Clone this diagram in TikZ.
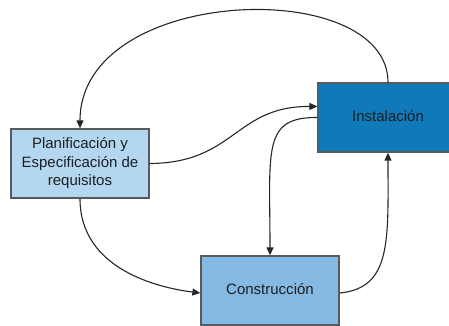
\documentclass[tikz,border=0pt]{standalone}
\usepackage{fontspec}
\setmainfont{Liberation Sans}
\usetikzlibrary{arrows.meta}
\definecolor{lightbox}{HTML}{B4D7F1}
\definecolor{midbox}{HTML}{84B9E3}
\definecolor{darkbox}{HTML}{0F79BA}
\definecolor{edgegray}{HTML}{5A5A5A}
\definecolor{txt}{HTML}{1E1E1E}
\begin{document}
\begin{tikzpicture}[x=1pt,y=-1pt,
  stage/.style={draw=edgegray,line width=1.3pt,minimum width=138pt,minimum height=69pt,inner sep=0pt,
    font=\fontsize{15}{18.5}\selectfont,text=txt,align=center},
  conn/.style={draw=black!85,line width=1.1pt,-{Triangle[length=8pt,width=7pt]}}]
\useasboundingbox (0,0) rectangle (449,326);
\node[stage,fill=lightbox] (plan) at (80,163.5) {Planificación y\\Especificación de\\requisitos};
\node[stage,fill=darkbox,minimum width=140pt] (inst) at (388,117.5) {\raisebox{2.5pt}{Instalación}};
\node[stage,fill=midbox] (cons) at (270,290.5) {\raisebox{3pt}{Construcción}};
\draw[conn] (inst.north) .. controls (388,-25) and (80,-15) .. (plan.north);
\draw[conn] (plan.east) .. controls (235,163) and (235,106) .. ([yshift=11pt]inst.west);
\draw[conn] (inst.west) .. controls (262,117) and (270,150) .. (cons.north);
\draw[conn] ([yshift=-2.5pt]cons.east) .. controls (392,288) and (388,240) .. (inst.south);
\draw[conn] (plan.south) .. controls (80,270) and (160,288) .. ([yshift=-2.5pt]cons.west);
\end{tikzpicture}
\end{document}
